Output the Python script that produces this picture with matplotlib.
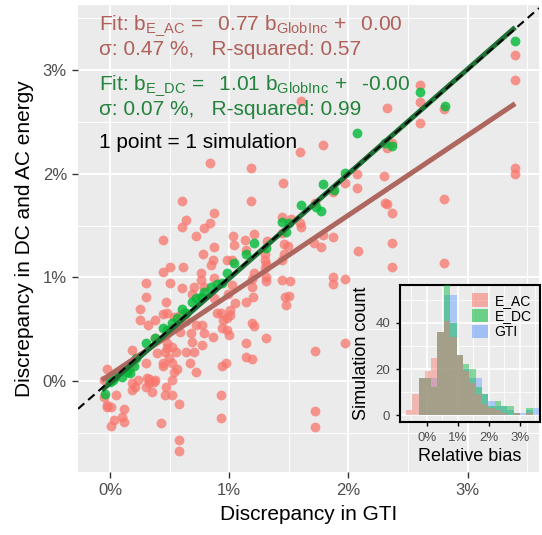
import numpy as np
import matplotlib
matplotlib.use("Agg")
import matplotlib.pyplot as plt
from matplotlib.patches import Patch
from matplotlib.ticker import FuncFormatter, MultipleLocator

plt.rcParams["font.family"] = ["Liberation Sans", "DejaVu Sans"]
plt.rcParams["mathtext.fontset"] = "custom"
plt.rcParams["mathtext.rm"] = "Liberation Sans"
plt.rcParams["mathtext.it"] = "Liberation Sans:italic"

# --- data (percent units) ---
# E_AC points: GTI discrepancy vs AC-energy discrepancy
ac_gti = [0.84, 1.18, 1.45, 2.07, 2.30, 2.07, 0.60, 1.18, 0.87, 0.64, 0.60, 0.84, 0.79, 1.52, 1.59,
          0.44, 0.72, 1.03, 1.13, 0.87, 1.21, 1.32, 1.46, 1.79, 1.87, 1.71, 1.77, 0.78, 2.08, 1.30,
          1.46, 0.86, 0.98, 1.30, 0.61, 0.50, 0.44, 0.85, 0.76, 0.76, 0.50, 0.30, 0.87, 0.60, 0.70,
          1.02, 1.19, 1.31, 1.44, 1.51, 1.87, 1.87, 1.97, 0.30, 0.47, 0.69, 0.77, 0.99, 1.05, 1.20,
          1.47, 1.50, 1.48, 0.25, 0.25, 0.32, 0.44, 0.48, 0.54, 0.59, 0.64, 0.72, 0.77, 0.52, 0.59,
          0.93, 0.95, 0.98, 0.94, 1.19, 1.21, 0.98, 0.79, 0.68, 0.47, 0.38, 0.86, 0.69, 0.77, 0.52,
          0.55, 0.46, 0.39, 0.64, 0.70, 0.49, 1.14, 1.31, 1.14, 1.19, 1.72, 1.97, 0.18, 0.18, 0.16,
          0.30, 0.44, 0.52, 0.54, 0.72, 0.94, 0.97, -0.03, -0.05, 0.33, 0.38, 0.33, 0.30, 0.18, 0.18,
          0.23, 0.47, 0.52, 0.46, 0.52, 0.05, -0.05, -0.03, 0.01, 0.12, 0.10, 0.12, 0.03, 0.01, 0.43,
          0.58, 0.93, 0.93, 0.58, 0.58, 1.72, 1.72, 1.79, 1.59, 1.97, 2.31, 1.87, 1.72, 1.60, 1.44,
          1.04, 1.14, 1.31, 1.30, 1.49, 1.44, 1.02, 1.21, 1.31, 1.19, 1.14, 2.32, 2.60, 2.60, 2.60,
          2.80, 2.32, 2.37, 2.32, 2.37, 2.37, 2.37, 2.80, 2.80, 3.40, 3.40, 3.40, 3.40, 1.60, 1.44,
          0.79, 0.87, 0.62, 0.38, 0.90, 0.48, 0.48, 0.44, 0.56, 0.67, 0.31, 0.37, 0.21, 0.35, -0.03,
          1.01, 1.01, 1.00]
ac_bias = [2.10, 2.06, 1.91, 2.00, 1.98, 1.86, 1.74, 1.74, 1.62, 1.55, 1.49, 1.52, 1.48, 1.56, 1.52,
           1.36, 1.40, 1.40, 1.36, 1.29, 1.42, 1.35, 1.32, 1.41, 1.39, 1.33, 1.29, 1.23, 1.25, 1.23,
           1.23, 1.17, 1.17, 1.17, 1.10, 1.10, 1.05, 1.12, 1.04, 0.97, 0.95, 0.95, 0.99, 0.90, 0.91,
           0.93, 0.98, 0.96, 0.97, 0.96, 1.00, 0.94, 0.98, 0.81, 0.76, 0.84, 0.80, 0.84, 0.75, 0.81,
           0.81, 0.82, 0.73, 0.69, 0.59, 0.54, 0.65, 0.66, 0.62, 0.64, 0.58, 0.54, 0.54, 0.51, 0.47,
           0.66, 0.59, 0.61, 0.51, 0.56, 0.53, 0.49, 0.46, 0.46, 0.44, 0.41, 0.42, 0.38, 0.35, 0.33,
           0.28, 0.28, 0.27, 0.28, 0.28, 0.22, 0.37, 0.41, 0.23, 0.21, 0.29, 0.37, 0.30, 0.17, 0.11,
           0.17, 0.17, 0.17, 0.09, 0.09, 0.14, 0.17, 0.11, 0.01, 0.02, 0.01, -0.02, -0.06, -0.02, -0.09,
           0.01, -0.06, 0.01, -0.14, -0.14, -0.14, -0.16, -0.25, -0.25, -0.27, -0.35, -0.40, -0.38, -0.44, -0.41,
           -0.22, -0.14, -0.36, -0.57, -0.68, -0.29, -0.45, 2.28, 2.21, 1.91, 1.72, 1.82, 1.72, 1.49, 1.43,
           1.31, 1.26, 1.13, 1.09, 1.30, 1.17, 1.17, 1.04, 1.00, 0.91, 0.76, 2.64, 2.86, 2.69, 2.49,
           2.63, 2.25, 2.30, 1.71, 1.62, 1.33, 1.10, 1.76, 1.14, 3.15, 2.91, 2.06, 2.00, 2.70, 1.58,
           0.91, 0.80, 0.66, 0.59, 0.66, 0.37, 0.32, 0.14, 0.11, 0.17, 0.03, -0.01, -0.06, -0.11, -0.23,
           0.68, 0.64, 0.44]

# E_DC points
dc_gti = [-0.04, 0.02, 0.00, 0.04, 0.10, 0.14, 0.17, 0.20, 0.22, 0.30, 0.38, 0.44, 0.48, 0.52, 0.56,
          0.60, 0.64, 0.69, 0.72, 0.76, 0.79, 0.85, 0.90, 0.94, 0.98, 1.04, 1.14, 1.21, 1.31, 1.44,
          1.50, 1.48, 1.60, 1.77, 1.73, 1.79, 1.88, 1.97, 2.07, 2.31, 2.37, 2.60, 2.81, 3.40]
dc_bias = [-0.13, 0.01, -0.01, 0.04, 0.04, 0.09, 0.08, 0.14, 0.22, 0.37, 0.41, 0.51, 0.49, 0.56, 0.61,
           0.69, 0.66, 0.76, 0.80, 0.81, 0.86, 0.91, 0.94, 0.95, 1.04, 1.14, 1.23, 1.33, 1.28, 1.53,
           1.52, 1.44, 1.70, 1.64, 1.68, 1.90, 1.84, 2.01, 2.39, 2.30, 2.27, 2.79, 2.65, 3.28]

# linear fits as printed on the chart (intercepts in percent)
ac_slope, ac_icpt = 0.77, 0.06
dc_slope, dc_icpt = 1.01, -0.02

# inset histogram of relative bias (bin edges in %, counts per series)
hist_edges = [-0.68, -0.48, -0.27, -0.07, 0.14, 0.34, 0.55, 0.75, 0.96, 1.16, 1.37, 1.57,
              1.78, 1.98, 2.19, 2.39, 2.60, 2.80, 3.01, 3.21, 3.42, 3.62]
hist_ac = [2, 9, 16, 19, 25, 36, 41, 34, 26, 19, 14, 9, 5, 3, 2, 1, 0, 1, 0, 1, 0]
hist_dc = [0, 0, 16, 16, 12, 36, 57, 40, 26, 22, 20, 12, 9, 4, 6, 4, 4, 1, 0, 3, 0]
hist_gti = [0, 0, 16, 16, 16, 36, 52, 52, 26, 20, 16, 16, 9, 6, 4, 4, 2, 1, 1, 2, 3]

PANEL = "#EBEBEB"
PINK = "#F8766D"
GREEN = "#00BA38"
BLUE = "#619CFF"

fig = plt.figure(figsize=(5.42, 5.35), dpi=100)
ax = fig.add_axes([78 / 542, 63 / 535, 461 / 542, 467 / 535])
ax.set_facecolor(PANEL)
for s in ax.spines.values():
    s.set_visible(False)

ax.scatter(ac_gti, ac_bias, s=50, color=PINK, alpha=0.75, lw=0, zorder=3)
ax.scatter(dc_gti, dc_bias, s=50, color=GREEN, alpha=0.8, lw=0, zorder=4)

fx = np.array([min(dc_gti) - 0.03, max(dc_gti)])
ax.plot(fx, ac_slope * fx + ac_icpt, color="#AE675F", lw=3.6, solid_capstyle="butt", zorder=5)
ax.plot(fx, dc_slope * fx + dc_icpt, color="#1F6E33", lw=3.6, solid_capstyle="butt", zorder=5)
ax.axline((0, 0), slope=1, color="black", lw=1.5, ls=(0, (4, 2.5)), zorder=6)

ax.set_xlim(-0.27, 3.6)
ax.set_ylim(-0.88, 3.63)
pct = FuncFormatter(lambda v, p: f"{v:.0f}%")
for a in (ax.xaxis, ax.yaxis):
    a.set_major_locator(MultipleLocator(1))
    a.set_minor_locator(MultipleLocator(0.5))
    a.set_major_formatter(pct)
ax.grid(which="major", color="white", lw=1.4)
ax.grid(which="minor", color="white", lw=0.7)
ax.set_axisbelow(True)
ax.tick_params(which="major", length=4, width=1, color="#333333", labelcolor="#4D4D4D",
               labelsize=12, pad=4)
ax.tick_params(which="minor", length=0)
ax.set_xlabel("Discrepancy in GTI", fontsize=15, labelpad=5)
ax.set_ylabel("Discrepancy in DC and AC energy", fontsize=15, labelpad=6)

ac_col = "#B0605A"
dc_col = "#23823C"
tx = -0.09
fs = 15
ax.text(tx, 3.43, r"Fit: b$_{\mathrm{E\_AC}}$$\,=$  0.77 b$_{\mathrm{GlobInc}}$$\,+$  0.00",
        color=ac_col, fontsize=fs, va="center", zorder=7)
ax.text(tx, 3.20, "σ: 0.47 %,   R-squared: 0.57", color=ac_col, fontsize=fs, va="center", zorder=7)
ax.text(tx, 2.85, r"Fit: b$_{\mathrm{E\_DC}}$$\,=$  1.01 b$_{\mathrm{GlobInc}}$$\,+$  -0.00",
        color=dc_col, fontsize=fs, va="center", zorder=7)
ax.text(tx, 2.62, "σ: 0.07 %,   R-squared: 0.99", color=dc_col, fontsize=fs, va="center", zorder=7)
ax.text(tx, 2.30, "1 point = 1 simulation", color="black", fontsize=fs, va="center", zorder=7)

# inset histogram
ins = fig.add_axes([400 / 542, 113 / 535, 140 / 542, 137 / 535])
ins.set_facecolor(PANEL)
edges = np.array(hist_edges)
widths = np.diff(edges)
for counts, col in ((hist_gti, BLUE), (hist_dc, GREEN), (hist_ac, PINK)):
    ins.bar(edges[:-1], counts, width=widths, align="edge", color=col, alpha=0.45, lw=0, zorder=3)
ins.set_xlim(-0.87, 3.65)
ins.set_ylim(-3, 56.5)
ins.xaxis.set_major_locator(MultipleLocator(1))
ins.xaxis.set_minor_locator(MultipleLocator(0.5))
ins.xaxis.set_major_formatter(pct)
ins.yaxis.set_major_locator(MultipleLocator(20))
ins.yaxis.set_minor_locator(MultipleLocator(10))
ins.grid(which="major", color="white", lw=1.2)
ins.grid(which="minor", color="white", lw=0.6)
ins.set_axisbelow(True)
for s in ins.spines.values():
    s.set_color("black")
    s.set_linewidth(1.5)
ins.tick_params(which="major", length=3, width=1, color="black", labelcolor="#4D4D4D",
                labelsize=9.5, pad=4)
ins.tick_params(which="minor", length=0)
ins.set_xlabel("Relative bias", fontsize=13, labelpad=3)
ins.set_ylabel("Simulation count", fontsize=13, labelpad=4)
handles = [Patch(color=c, alpha=0.55, lw=0) for c in (PINK, GREEN, BLUE)]
ins.legend(handles, ["E_AC", "E_DC", "GTI"], loc="upper right", bbox_to_anchor=(1.0, 1.0),
           frameon=False, fontsize=10, handlelength=1.1, handleheight=1.1, handletextpad=0.5,
           labelspacing=0.1, borderaxespad=0.2)

fig.savefig("out.png", dpi=100)
